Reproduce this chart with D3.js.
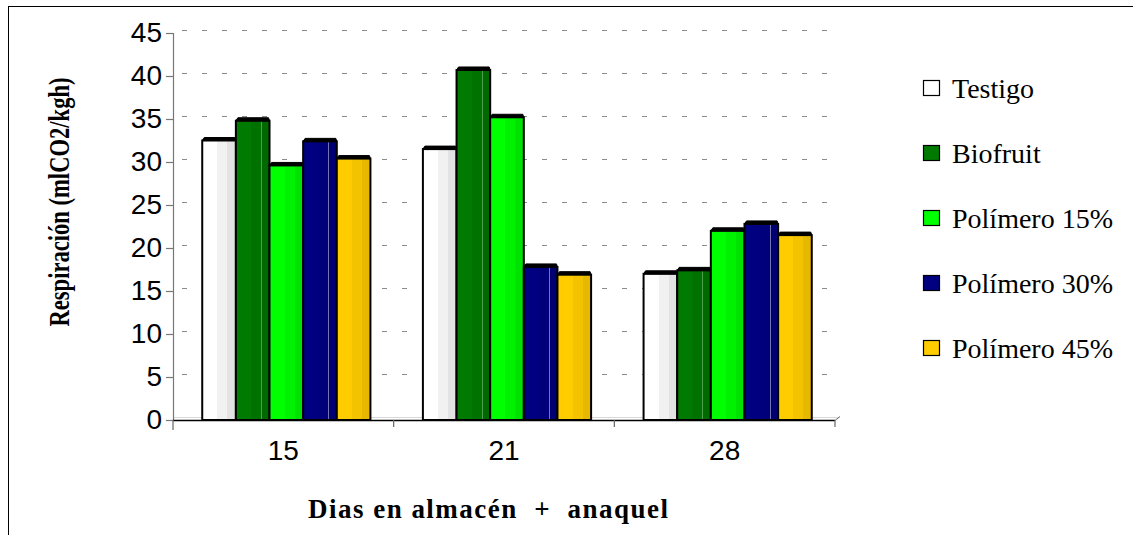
<!DOCTYPE html>
<html>
<head>
<meta charset="utf-8">
<script src="https://cdn.jsdelivr.net/npm/d3@7"></script>
<style>
  html, body { margin: 0; padding: 0; background: #fff; }
  svg { display: block; }
</style>
</head>
<body>
<svg id="chart" width="1133" height="535"></svg>
<script>
// Storage days (categories) and respiration rate per treatment
const days = ["15", "21", "28"];
const series = ["Testigo", "Biofruit", "Polímero 15%", "Polímero 30%", "Polímero 45%"];
const testigo = [32.5, 31.5, 17.0];
const biofruit = [34.8, 40.7, 17.4];
const polimero15 = [29.6, 35.2, 22.0];
const polimero30 = [32.4, 17.8, 22.8];
const polimero45 = [30.4, 16.9, 21.5];
const yTicks = [0, 5, 10, 15, 20, 25, 30, 35, 40, 45];

const values = [testigo, biofruit, polimero15, polimero30, polimero45];

// Face shading for each treatment: [light, mid, dark, highlight line]
const shades = [
  ["#ffffff", "#f1f1f1", "#e3e3e3", null],
  ["#007a00", "#007200", "#006a00", "#4f9f4f"],
  ["#00ff00", "#00f200", "#00e200", null],
  ["#000080", "#00007a", "#000072", "#7474b4"],
  ["#ffcc00", "#f4c300", "#e6b800", null]
];
const legendFill = ["#ffffff", "#007a00", "#00ff00", "#000080", "#ffcc00"];

const svg = d3.select("#chart");

// Outer frame
svg.append("rect")
  .attr("x", 8.5).attr("y", 6.5)
  .attr("width", 1140).attr("height", 540)
  .attr("fill", "none").attr("stroke", "#000").attr("stroke-width", 1);

const plot = { left: 173, right: 835, top: 33, bottom: 420 };

const y = d3.scaleLinear().domain([0, 45]).range([plot.bottom, plot.top]);
const x0 = d3.scaleBand().domain(days).range([plot.left, plot.right]).padding(0);
const x1 = d3.scaleBand().domain(series)
  .range([0, x0.bandwidth()]).paddingInner(0).paddingOuter(0.78);

// Gradients for the column faces
const defs = svg.append("defs");
shades.forEach((s, i) => {
  const g = defs.append("linearGradient").attr("id", "face" + i)
    .attr("x1", "0%").attr("x2", "100%").attr("y1", "0%").attr("y2", "0%");
  const stops = [[0, s[0]], [0.45, s[0]], [0.45, s[1]], [0.75, s[1]]];
  if (s[3]) {
    stops.push([0.75, s[3]], [0.775, s[3]], [0.775, s[2]]);
  } else {
    stops.push([0.75, s[2]]);
  }
  stops.push([1, s[2]]);
  stops.forEach(([o, c]) => g.append("stop").attr("offset", o).attr("stop-color", c));
});

// Back-wall dashed gridlines
svg.append("g").selectAll("line")
  .data(yTicks.filter(d => d > 0))
  .join("line")
  .attr("x1", 182).attr("x2", 838)
  .attr("y1", d => y(d) - 2.5).attr("y2", d => y(d) - 2.5)
  .attr("stroke", "#8c8c8c").attr("stroke-width", 1)
  .attr("stroke-dasharray", "5,15");

// Floor edge
svg.append("line")
  .attr("x1", plot.left).attr("x2", plot.right + 4)
  .attr("y1", plot.bottom - 2.5).attr("y2", plot.bottom - 2.5)
  .attr("stroke", "#d8d8d8").attr("stroke-width", 1);

// Y axis
const yAxis = d3.axisLeft(y).tickValues(yTicks).tickSize(7).tickPadding(4);
const gy = svg.append("g").attr("transform", `translate(${plot.left},0)`).call(yAxis);
gy.select(".domain").attr("stroke", "#777").attr("stroke-width", 1.2);
gy.selectAll(".tick line").attr("stroke", "#777").attr("stroke-width", 1.2);
gy.selectAll(".tick text")
  .attr("font-family", "'Liberation Sans', Arial, sans-serif")
  .attr("font-size", 28).attr("fill", "#000");

// Columns
const groups = svg.append("g").selectAll("g")
  .data(days)
  .join("g")
  .attr("transform", d => `translate(${x0(d) + 3},0)`);

groups.each(function(day, di) {
  const g = d3.select(this);
  series.forEach((name, si) => {
    const v = values[si][di];
    const bx = x1(name);
    const bw = x1.bandwidth();
    const by = y(v);
    g.append("rect")
      .attr("x", bx).attr("y", by)
      .attr("width", bw).attr("height", y(0) - by)
      .attr("fill", `url(#face${si})`)
      .attr("stroke", "#000").attr("stroke-width", 2);
    // top face
    g.append("path")
      .attr("d", `M${bx},${by} L${bx + 2},${by - 3} L${bx + bw - 1},${by - 3} L${bx + bw},${by} Z`)
      .attr("fill", "#000").attr("stroke", "#000").attr("stroke-width", 1);
  });
});

// X axis
svg.append("line")
  .attr("x1", plot.left).attr("x2", plot.right)
  .attr("y1", plot.bottom + 0.5).attr("y2", plot.bottom + 0.5)
  .attr("stroke", "#000").attr("stroke-width", 1.5);
svg.append("line")
  .attr("x1", plot.right).attr("x2", plot.right + 5)
  .attr("y1", plot.bottom + 0.5).attr("y2", plot.bottom - 3.5)
  .attr("stroke", "#666").attr("stroke-width", 1);
const boundaries = days.map(d => x0(d)).concat([plot.right]);
svg.append("g").selectAll("line")
  .data(boundaries)
  .join("line")
  .attr("x1", d => d).attr("x2", d => d)
  .attr("y1", plot.bottom).attr("y2", (d, i) => i === 0 ? plot.bottom + 10 : plot.bottom + 7)
  .attr("stroke", "#666").attr("stroke-width", 1.2);
svg.append("g").selectAll("text")
  .data(days)
  .join("text")
  .attr("x", d => x0(d) + x0.bandwidth() / 2)
  .attr("y", 460)
  .attr("text-anchor", "middle")
  .attr("font-family", "'Liberation Sans', Arial, sans-serif")
  .attr("font-size", 28).attr("fill", "#000")
  .text(d => d);

// Axis titles
svg.append("text")
  .attr("transform", "translate(69,202) rotate(-90)")
  .attr("text-anchor", "middle")
  .attr("font-family", "'Liberation Serif', 'Times New Roman', serif")
  .attr("font-weight", "bold").attr("font-size", 29)
  .attr("textLength", 249).attr("lengthAdjust", "spacingAndGlyphs")
  .text("Respiración (mlCO2/kgh)");

svg.append("text")
  .attr("x", 488).attr("y", 518)
  .attr("text-anchor", "middle")
  .attr("font-family", "'Liberation Serif', 'Times New Roman', serif")
  .attr("font-weight", "bold").attr("font-size", 27)
  .attr("textLength", 360).attr("lengthAdjust", "spacing")
  .style("white-space", "pre")
  .text("Dias en almacén  +  anaquel");

// Legend
const legend = svg.append("g").selectAll("g")
  .data(series)
  .join("g")
  .attr("transform", (d, i) => `translate(923,${80 + i * 65})`);
legend.append("rect")
  .attr("x", 0.5).attr("y", 0.5)
  .attr("width", 16).attr("height", 15)
  .attr("fill", (d, i) => legendFill[i])
  .attr("stroke", "#000").attr("stroke-width", 1.2);
legend.append("text")
  .attr("x", 29).attr("y", 18)
  .attr("font-family", "'Liberation Serif', 'Times New Roman', serif")
  .attr("font-size", 28).attr("fill", "#000")
  .text(d => d);
</script>
</body>
</html>
